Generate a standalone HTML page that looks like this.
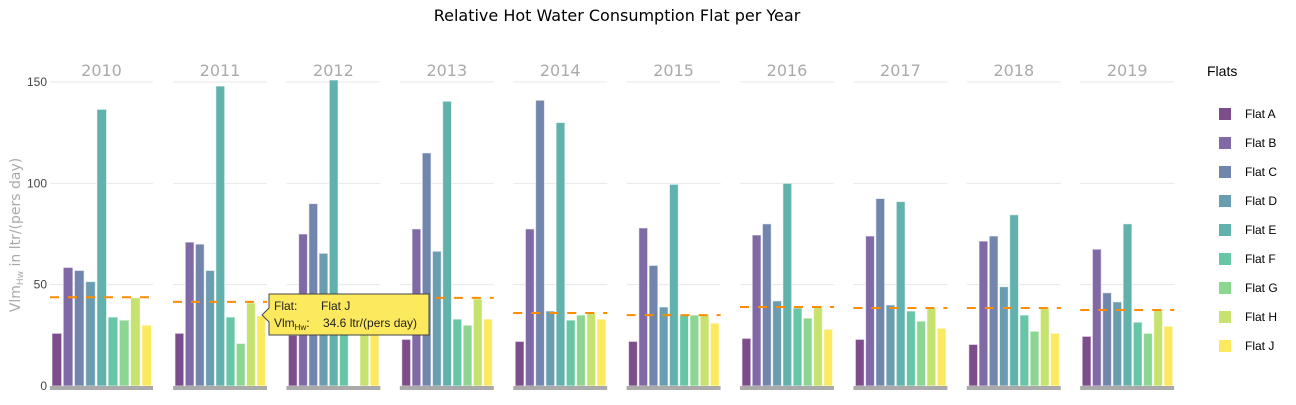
<!DOCTYPE html>
<html><head><meta charset="utf-8">
<style>
body{margin:0;background:#fff;width:1296px;height:400px;overflow:hidden;font-family:"Liberation Sans","DejaVu Sans",sans-serif}
</style></head>
<body>
<svg id="chart" width="1296" height="400" xmlns="http://www.w3.org/2000/svg" font-family="Liberation Sans, sans-serif">
<text x="617" y="21" text-anchor="middle" font-size="16" fill="#000" font-family="DejaVu Sans, sans-serif">Relative Hot Water Consumption Flat per Year</text>
<text transform="translate(20,235) rotate(-90)" text-anchor="middle" font-size="14" fill="#aaa" font-family="DejaVu Sans, sans-serif">Vlm<tspan font-size="9" dy="3">Hw</tspan><tspan dy="-3"> in ltr/(pers day)</tspan></text>
<g id="plots"></g>
<g id="legend"></g>
<g>
<path d="M269,294 H429 V335 H269 V322 L262,315 L269,308 Z" fill="#fde95e" stroke="#444" stroke-width="1"/>
<text x="274" y="310" font-size="12" fill="#222">Flat:</text>
<text x="321" y="310" font-size="12" fill="#222">Flat J</text>
<text x="274" y="327" font-size="12" fill="#222">Vlm<tspan font-size="8" dy="3">Hw</tspan><tspan dy="-3">:</tspan></text>
<text x="323" y="327" font-size="12" fill="#222">34.6 ltr/(pers day)</text>
</g>
</svg>
<script>
const years=["2010","2011","2012","2013","2014","2015","2016","2017","2018","2019"];
const flats=["Flat A","Flat B","Flat C","Flat D","Flat E","Flat F","Flat G","Flat H","Flat J"];
const colors=["#7d4c8a","#7f6aa5","#7286ad","#6b9db0","#61b1ad","#67c6a6","#8dd691","#c5e36e","#fce95f"];
const v2010=[26,58.5,57,51.5,136.5,34,32.5,43.5,30];
const v2011=[26,71,70,57,148,34,21,41,34.6];
const v2012=[25,75,90,65.5,151,33,0,45,45];
const v2013=[23,77.5,115,66.5,140.5,33,30,43,33];
const v2014=[22,77.5,141,37,130,32.5,35,36,33];
const v2015=[22,78,59.5,39,99.5,35,35,35,31];
const v2016=[23.5,74.5,80,42,100,38.5,33.5,39.5,28];
const v2017=[23,74,92.5,40,91,37,32,38.5,28.5];
const v2018=[20.5,71.5,74,49,84.5,35,27,38.5,26];
const v2019=[24.5,67.5,46,41.5,80,31.5,26,38,29.5];
const values=[v2010,v2011,v2012,v2013,v2014,v2015,v2016,v2017,v2018,v2019];
const averages=[43.8,41.5,44.5,43.5,36,35,39,38.5,38.5,37.5];
const yTicks=[0,50,100,150];

const NS="http://www.w3.org/2000/svg";
const y0=386,yScale=v=>y0-v*(304/150);
function facetX(i){return i===0?50:173+(i-1)*113.4;}
function facetW(i){return i===0?103:94;}
function mk(tag,attrs,parent){const e=document.createElementNS(NS,tag);for(const k in attrs)e.setAttribute(k,attrs[k]);parent.appendChild(e);return e;}
const plots=document.getElementById('plots');
yTicks.forEach(t=>{
  const tl=mk('text',{x:47,y:yScale(t)+4,'text-anchor':'end','font-size':12,fill:'#444'},plots);
  
  
  tl.textContent=t;
});
years.forEach((yr,i)=>{
  const x0=facetX(i),w=facetW(i);
  const g=mk('g',{},plots);
  
  
  yTicks.forEach(t=>{if(t>0){const gl=mk('line',{x1:x0,x2:x0+w,y1:yScale(t),y2:yScale(t),stroke:'#e8e8e8','stroke-width':1},g);
    }});
  const lab=mk('text',{x:x0+w/2,y:76,'text-anchor':'middle','font-size':16,fill:'#aaa','font-family':'DejaVu Sans, sans-serif'},g);
  
  
  lab.textContent=yr;
  const step=(w-2)/flats.length,bw=step*0.86;
  values[i].forEach((v,j)=>{
    if(v<=0)return;
    const r=mk('rect',{x:x0+2+j*step,y:yScale(v),width:bw,height:y0-yScale(v),fill:colors[j],stroke:'rgba(255,255,255,0.6)','stroke-width':1},g);
    
    
  });
  const base=mk('rect',{x:x0,y:386,width:w,height:4,fill:'#aaa'},g);
  
  
  const al=mk('line',{x1:x0,x2:x0+w,y1:yScale(averages[i]),y2:yScale(averages[i]),stroke:'#ff8c00','stroke-width':2,'stroke-dasharray':'9,9'},g);
  
  
});
const lg=document.getElementById('legend');


const lt=mk('text',{x:1207,y:76,'font-size':14,fill:'#000'},lg);


lt.textContent='Flats';
flats.forEach((f,j)=>{
  const eg=mk('g',{},lg);
  
  
  const cy=114+j*29;
  mk('rect',{x:1219,y:cy-6,width:12,height:12,fill:colors[j]},eg);
  const t=mk('text',{x:1245,y:cy+4,'font-size':12,fill:'#000'},eg);
  t.textContent=f;
});
</script>
</body></html>
